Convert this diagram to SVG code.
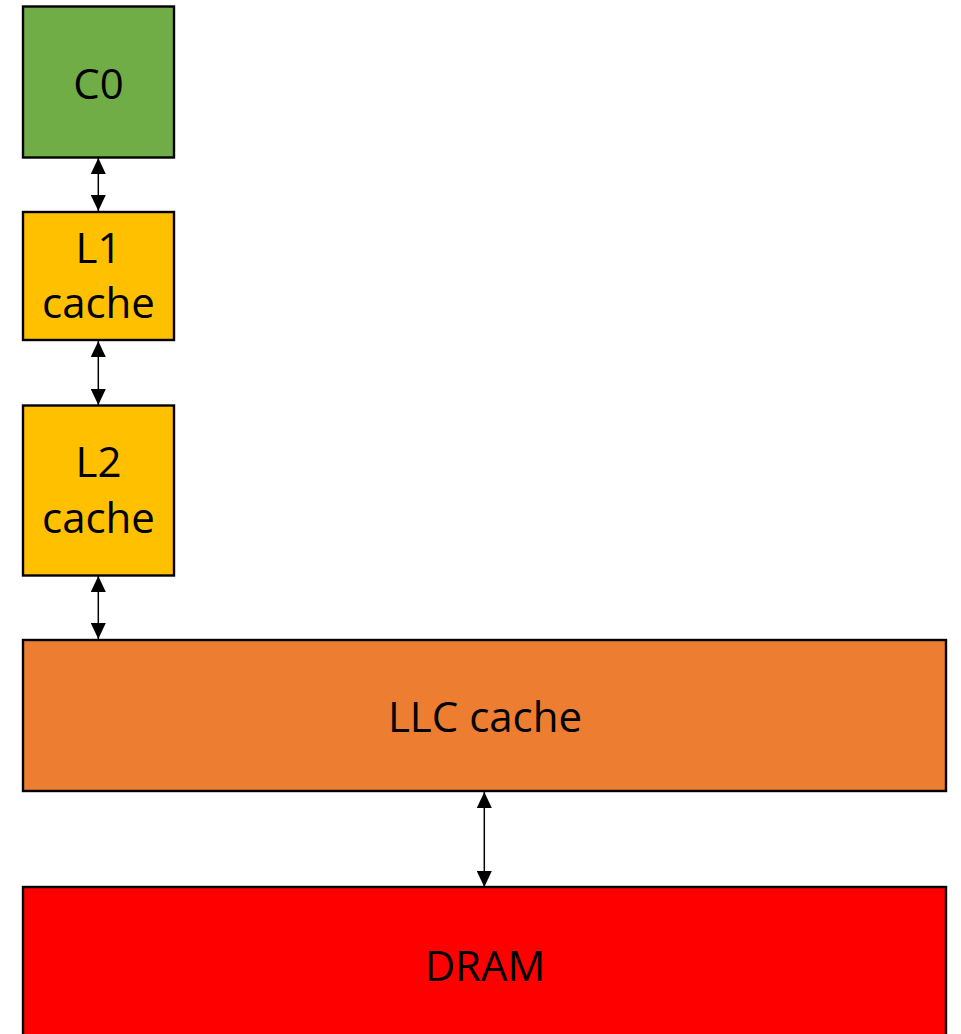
<svg xmlns="http://www.w3.org/2000/svg" width="961" height="1034" viewBox="0 0 961 1034">
  <style>
    .box { stroke: #000; stroke-width: 2.4; }
    .lbl { font-family: "Open Sans", "Liberation Sans", sans-serif; font-size: 42px; fill: #000; text-anchor: middle; }
    .link { stroke: #000; stroke-width: 1.5; fill: none; marker-start: url(#head); marker-end: url(#head); }
  </style>
  <defs>
    <marker id="head" viewBox="0 0 16 15" refX="16" refY="7.5" markerWidth="16" markerHeight="15" markerUnits="userSpaceOnUse" orient="auto-start-reverse">
      <path d="M0,0 L16,7.5 L0,15 Z" fill="#000"/>
    </marker>
  </defs>
  <rect width="961" height="1034" fill="#fff"/>

  <g id="connectors">
    <line class="link" x1="98.3" y1="158" x2="98.3" y2="211"/>
    <line class="link" x1="98.3" y1="341" x2="98.3" y2="405"/>
    <line class="link" x1="98.3" y1="576" x2="98.3" y2="639"/>
    <line class="link" x1="484.3" y1="792" x2="484.3" y2="887"/>
  </g>

  <g id="c0">
    <rect class="box" x="23" y="6.5" width="151" height="151" fill="#70AD47"/>
    <text class="lbl" x="98.5" y="99">C0</text>
  </g>
  <g id="l1">
    <rect class="box" x="23" y="212" width="151" height="128" fill="#FFC000"/>
    <text class="lbl" x="98.5" y="263">L1</text>
    <text class="lbl" x="98.5" y="318">cache</text>
  </g>
  <g id="l2">
    <rect class="box" x="23" y="405.5" width="151" height="170" fill="#FFC000"/>
    <text class="lbl" x="98.5" y="477">L2</text>
    <text class="lbl" x="98.5" y="533">cache</text>
  </g>
  <g id="llc">
    <rect class="box" x="23" y="640" width="923" height="151" fill="#ED7D31"/>
    <text class="lbl" x="485" y="732">LLC cache</text>
  </g>
  <g id="dram">
    <rect class="box" x="23" y="887" width="923" height="160" fill="#FF0000"/>
    <text class="lbl" x="485" y="981">DRAM</text>
  </g>
</svg>
